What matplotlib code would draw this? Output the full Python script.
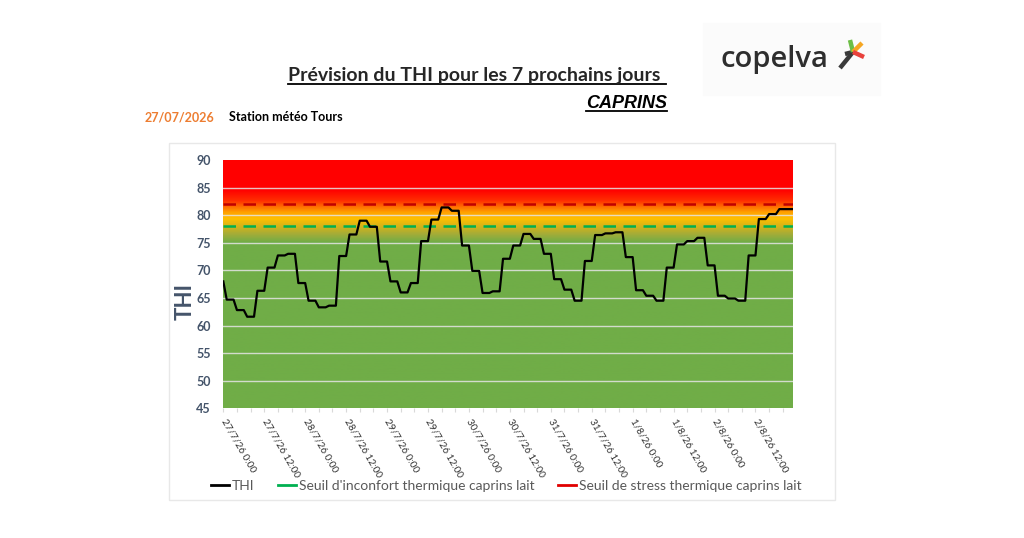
import numpy as np
import matplotlib.pyplot as plt
from matplotlib.colors import LinearSegmentedColormap
from matplotlib.lines import Line2D
from matplotlib.patches import Rectangle

# THI first hour, then 3-hourly values (each held for 3 hours)
thi_first = 68.0
thi_3h = [64.7, 62.8, 61.6, 66.3, 70.5, 72.7, 73.0, 67.7,
          64.5, 63.3, 63.6, 72.6, 76.5, 79.0, 77.9, 71.6,
          68.0, 66.0, 67.7, 75.3, 79.2, 81.4, 80.8, 74.5,
          69.9, 65.9, 66.2, 72.1, 74.5, 76.6, 75.7, 73.0,
          68.4, 66.5, 64.5, 71.7, 76.4, 76.7, 76.9, 72.4,
          66.4, 65.4, 64.5, 70.5, 74.7, 75.3, 75.9, 70.9,
          65.4, 64.9, 64.5, 72.7, 79.3, 80.2, 81.1, 81.1]
n_hours = 168
seuil_inconfort = 78
seuil_stress = 82
tick_labels = ['27/7/26 0:00', '27/7/26 12:00', '28/7/26 0:00', '28/7/26 12:00',
               '29/7/26 0:00', '29/7/26 12:00', '30/7/26 0:00', '30/7/26 12:00',
               '31/7/26 0:00', '31/7/26 12:00', '1/8/26 0:00', '1/8/26 12:00',
               '2/8/26 0:00', '2/8/26 12:00']

thi = np.concatenate([[thi_first], np.repeat(thi_3h, 3)])[:n_hours]
hours = np.arange(n_hours)

plt.rcParams['font.family'] = ['Lato', 'DejaVu Sans']

W, H = 1024, 538
fig = plt.figure(figsize=(W / 100, H / 100), dpi=100)


def fx(x):
    return x / W


def fy(y):
    return 1 - y / H


# chart frame
fig.add_artist(Rectangle((fx(169), fy(500)), (835 - 169) / W, (500 - 142.5) / H,
                         transform=fig.transFigure, fill=False,
                         edgecolor='#E8E8E8', lw=1))

ax = fig.add_axes([fx(223.3), fy(408.3), (793 - 223.3) / W, (408.3 - 160) / H])

# background gradient green -> yellow -> orange -> red
stops = [(45, '#70AD47'), (75, '#70AD47'), (76.5, '#A4AC38'), (78, '#D8B417'),
         (79.3, '#FFC000'), (80.5, '#FFA000'), (81.5, '#FF6A00'), (82.5, '#FF3000'),
         (84.5, '#FF0000'), (90, '#FF0000')]
cmap = LinearSegmentedColormap.from_list(
    'thi', [((v - 45) / 45, c) for v, c in stops])
grad = np.linspace(45, 90, 600).reshape(-1, 1)
ax.imshow(grad, extent=[0, n_hours - 1, 45, 90], origin='lower', aspect='auto',
          cmap=cmap, vmin=45, vmax=90, zorder=0)

for v in range(50, 90, 5):
    ax.axhline(v, color='#E4E4E4', lw=1, alpha=0.85, zorder=1)

ax.axhline(seuil_stress, color='#C00000', lw=1.8, dashes=(5, 3), zorder=2)
ax.axhline(seuil_inconfort, color='#00B050', lw=1.8, dashes=(5, 3), zorder=2)
ax.plot(hours, thi, color='black', lw=1.6, zorder=3)

ax.set_xlim(0, n_hours - 1)
ax.set_ylim(45, 90)
for s in ax.spines.values():
    s.set_visible(False)

ax.set_yticks(range(45, 91, 5))
ax.tick_params(axis='y', length=0, pad=9, labelsize=9, labelcolor='#44546A')
for t in ax.get_yticklabels():
    t.set_fontweight('bold')

xt = list(range(0, n_hours, 4))
ax.set_xticks(xt)
ax.set_xticklabels([tick_labels[h // 12] if h % 12 == 0 else '' for h in xt],
                   rotation=-60, ha='left', va='center', rotation_mode='anchor',
                   fontsize=7.2, color='#333333')
ax.tick_params(axis='x', length=3, color='#D9D9D9', pad=5)

fig.text(fx(185), fy(302), 'THI', rotation=90, ha='center', va='center',
         fontsize=16, fontweight='bold', color='#44546A')

handles = [Line2D([], [], color='black', lw=2),
           Line2D([], [], color='#00B050', lw=2),
           Line2D([], [], color='#E00000', lw=2)]
fig.legend(handles, ['THI', "Seuil d'inconfort thermique caprins lait",
                     'Seuil de stress thermique caprins lait'],
           loc='center', bbox_to_anchor=(fx(506), fy(486)), ncol=3, frameon=False,
           handlelength=1.3, handletextpad=0.2, columnspacing=1.7,
           prop={'size': 10}, labelcolor='#595959')

# titles
title = fig.text(fx(477), fy(76), 'Prévision du THI pour les 7 prochains jours ',
                 ha='center', va='center', fontsize=14, fontweight='bold',
                 color='#262626')
caprins = fig.text(fx(667), fy(103), 'CAPRINS', ha='right', va='center',
                   fontsize=13, fontweight='bold', fontstyle='italic',
                   family=['Liberation Sans'], color='black')
fig.text(fx(145), fy(117), '27/07/2026', ha='left', va='center', fontsize=9,
         fontweight='bold', color='#ED7D31')
fig.text(fx(229), fy(117), 'Station météo Tours', ha='left', va='center',
         fontsize=9, fontweight='bold', color='black')

# logo
fig.add_artist(Rectangle((fx(703), fy(95)), 177 / W, 72 / H,
                         transform=fig.transFigure, color='#FBFBFB', zorder=0))
fig.text(fx(721), fy(60), 'copelva', ha='left', va='center', fontsize=21,
         fontweight='semibold', family=['Open Sans'], color='#2E2E2E')
logo_strokes = [((853, 52), (840, 68), '#3a3a3a'), ((853, 52), (845, 54), '#3a3a3a'),
                ((853, 52), (850, 40), '#6CBE45'), ((853, 52), (862, 43), '#F5A623'),
                ((853, 52), (864, 57), '#E8413C')]
for (x0, y0), (x1, y1), c in logo_strokes:
    fig.add_artist(Line2D([fx(x0), fx(x1)], [fy(y0), fy(y1)], color=c, lw=3.2,
                          solid_capstyle='butt', transform=fig.transFigure))

# underlines
fig.canvas.draw()
r = fig.canvas.get_renderer()
for t, lw in [(title, 1.3), (caprins, 1.3)]:
    bb = t.get_window_extent(r)
    yb = bb.y0 + 1
    fig.add_artist(Line2D([bb.x0 / W, bb.x1 / W], [yb / H, yb / H], color='black',
                          lw=lw, transform=fig.transFigure))

fig.savefig('out.png', dpi=100)
